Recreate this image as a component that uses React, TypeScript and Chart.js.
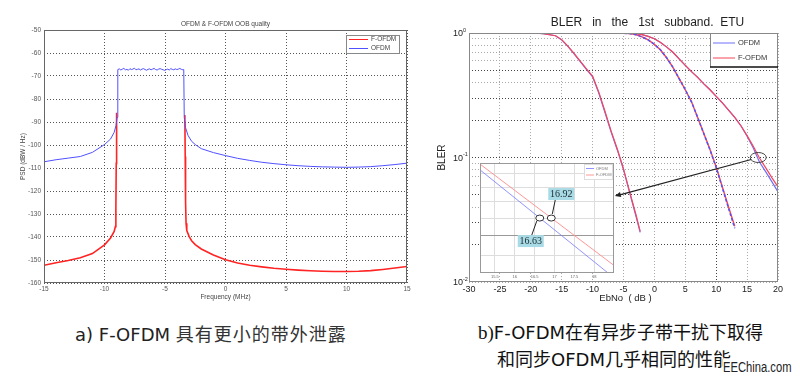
import React, { useEffect, useRef } from 'react';
import { Chart, registerables } from 'chart.js';

Chart.register(...registerables);

const FONT = "'Liberation Sans', Arial, sans-serif";

// ---------- Chart a) PSD ----------
const psdTitle = 'OFDM & F-OFDM OOB quality';
const psdXTitle = 'Frequency (MHz)';
const psdYTitle = 'PSD (dBW / Hz)';
const psdXTicks = [-15, -10, -5, 0, 5, 10, 15];
const psdYTicks = [-160, -150, -140, -130, -120, -110, -100, -90, -80, -70, -60, -50];
const psdLegend = ['F-OFDM', 'OFDM'];

// F-OFDM: in-band part lies under the OFDM trace (null = hidden gap)
const fofdmFreq = [-15, -14, -13, -12, -11, -10, -9.5, -9.2, -9.1, -9.06, -9.03, -9.0, -6, -3.36, -3.33, -3.3, -3.26, -3.2, -3.0, -2.8, -2.5, -2, -1, 0, 1, 2, 3, 4, 5, 6, 7, 8, 9, 10, 11, 12, 13, 14, 15];
const fofdmPsd = [-152.3, -151.2, -150.2, -149.0, -147.2, -143.4, -140.4, -137.6, -135.5, -128, -108, -86, null, -87, -105, -125, -134, -137.2, -139.8, -141.6, -143.3, -145.2, -147.8, -149.9, -151.3, -152.3, -153.0, -153.6, -154.0, -154.4, -154.7, -154.9, -155.0, -155.0, -154.9, -154.6, -154.1, -153.5, -152.8];

const ofdmFreq = [-15, -14, -13, -12, -11, -10, -9.5, -9.2, -9.05, -8.96,
  -8.9, -8.775, -8.65, -8.525, -8.4, -8.275, -8.15, -8.025, -7.9, -7.775, -7.65, -7.525, -7.4, -7.275, -7.15, -7.025,
  -6.9, -6.775, -6.65, -6.525, -6.4, -6.275, -6.15, -6.025, -5.9, -5.775, -5.65, -5.525, -5.4, -5.275, -5.15, -5.025,
  -4.9, -4.775, -4.65, -4.525, -4.4, -4.275, -4.15, -4.025, -3.9, -3.775, -3.65, -3.525, -3.45,
  -3.41, -3.3, -3.1, -2.8, -2.5, -2, -1, 0, 1, 2, 3, 4, 5, 6, 7, 8, 9, 10, 11, 12, 13, 14, 15];
const ofdmPsd = [-107.3, -106.4, -105.7, -105.0, -103.2, -99.8, -97.4, -94.5, -91.5, -88,
  -67.2, -66.9, -67.4, -67.0, -66.7, -67.3, -67.1, -67.5, -66.8, -67.2, -67.0, -66.6, -67.3, -67.1, -66.9, -67.4,
  -67.0, -66.8, -67.2, -67.5, -67.1, -66.9, -67.3, -67.0, -66.7, -67.2, -67.4, -67.0, -66.8, -67.1, -67.3, -67.6,
  -67.2, -67.0, -67.4, -66.8, -67.1, -67.3, -66.9, -67.2, -67.0, -66.7, -67.1, -67.3, -67.2,
  -88, -92.5, -95.8, -98.4, -99.8, -101.6, -103.3, -104.6, -105.8, -106.7, -107.5, -108.1, -108.6, -109.0, -109.3, -109.5, -109.6, -109.7, -109.6, -109.4, -109.0, -108.5, -107.9];

// ---------- Chart b) BLER ----------
const blerTitle = 'BLER   in   the   1st   subband.  ETU';
const blerXTitle = 'EbNo  ( dB )';
const blerYTitle = 'BLER';
const blerXTicks = [-30, -25, -20, -15, -10, -5, 0, 5, 10, 15, 20];
const blerYTicks = [0.01, 0.02, 0.03, 0.04, 0.05, 0.06, 0.07, 0.08, 0.09, 0.1, 0.2, 0.3, 0.4, 0.5, 0.6, 0.7, 0.8, 0.9, 1];
const blerYDark = [0.5, 0.3, 0.2, 0.1, 0.05, 0.03, 0.02];
const blerDecades = [1, 0.1, 0.01];
const blerDecadeExp = ['0', '-1', '-2'];
const blerLegend = ['OFDM', 'F-OFDM'];

const ebnoA = [-22, -20, -18, -16, -15, -14, -13, -12, -11, -10, -9, -8, -7, -6, -5, -4, -3, -2.3];
const ofdmA = [1, 1, 0.99, 0.95, 0.88, 0.78, 0.68, 0.59, 0.51, 0.445, 0.33, 0.23, 0.16, 0.115, 0.08, 0.052, 0.034, 0.025];
const fofdmA = [1, 1, 0.99, 0.95, 0.885, 0.785, 0.685, 0.595, 0.515, 0.45, 0.335, 0.235, 0.163, 0.117, 0.081, 0.053, 0.035, 0.0255];

const ebnoB = [-9, -6, -4, -3, -2, -1, 0, 1, 2, 3, 4, 5, 6, 7, 8, 9, 10, 11, 12, 13];
const ofdmB = [1, 1, 0.99, 0.97, 0.93, 0.88, 0.81, 0.73, 0.63, 0.53, 0.43, 0.35, 0.28, 0.21, 0.155, 0.115, 0.083, 0.057, 0.039, 0.027];
const fofdmB = [1, 1, 0.99, 0.97, 0.93, 0.88, 0.81, 0.73, 0.63, 0.53, 0.43, 0.35, 0.28, 0.21, 0.156, 0.116, 0.084, 0.058, 0.04, 0.028];

const ebnoC = [-9, -5, -3, -2, -1, 0, 1, 2, 3, 4, 5, 6, 7, 8, 9, 10, 11, 12, 13, 14, 15, 16, 17, 18, 19, 20];
const ofdmC = [1, 1, 0.99, 0.97, 0.94, 0.9, 0.84, 0.77, 0.7, 0.62, 0.55, 0.49, 0.44, 0.39, 0.35, 0.31, 0.275, 0.24, 0.21, 0.18, 0.148, 0.119, 0.092, 0.077, 0.064, 0.053];
const fofdmC = [1, 1, 0.99, 0.97, 0.94, 0.9, 0.84, 0.77, 0.7, 0.62, 0.55, 0.49, 0.44, 0.39, 0.35, 0.31, 0.275, 0.24, 0.21, 0.18, 0.15, 0.123, 0.099, 0.083, 0.069, 0.058];

// marked region (ellipse) and arrow target, in data units
const ellipseCenter = [16.8, 0.1];
const arrowTip = [-6.4, 0.049];

// ---------- Inset zoom ----------
const insetXTicks = [15.5, 16, 16.5, 17, 17.5, 18];
const insetYTicks = [0.08, 0.09, 0.1, 0.11, 0.12, 0.13];
const insetEbno = [15.125, 18.5];
const insetOfdm = [0.1329, 0.0703];
const insetFofdm = [0.1375, 0.0756];
const crossOfdm = 16.63;
const crossFofdm = 16.92;
const crossLevel = 0.1;

// ---------- captions ----------
const captionA = ['a)  F-OFDM ', '具有更小的带外泄露'];
const captionB1 = ['b)', 'F-OFDM在有异步子带干扰下取得'];
const captionB2 = '和同步OFDM几乎相同的性能';
const watermark = 'EEChina.com';

const RED = 'rgb(255,35,35)';
const BLUE = 'rgb(80,80,255)';
const BRED = 'rgb(245,70,90)';
const BBLUE = 'rgb(110,110,250)';

const pts = (xs: number[], ys: (number | null)[]) => xs.map((x, i) => ({ x, y: ys[i] }));

const leftDeco = {
  id: 'leftDeco',
  afterDraw(chart: any) {
    const { ctx, chartArea: a } = chart;
    ctx.save();
    ctx.strokeStyle = '#666';
    ctx.lineWidth = 1;
    ctx.strokeRect(a.left + 0.5, a.top + 0.5, a.right - a.left - 1, a.bottom - a.top - 1);
    ctx.fillStyle = '#444';
    ctx.font = `6.5px ${FONT}`;
    ctx.textAlign = 'center';
    ctx.textBaseline = 'middle';
    const cx = (a.left + a.right) / 2;
    ctx.fillText(psdTitle, cx, a.top - 6);
    ctx.fillText(psdXTitle, cx, a.bottom + 14);
    ctx.save();
    ctx.translate(a.left - 21, (a.top + a.bottom) / 2);
    ctx.rotate(-Math.PI / 2);
    ctx.fillText(psdYTitle, 0, 0);
    ctx.restore();
    // legend
    const lx = a.right - 61, ly = a.top + 5;
    ctx.fillStyle = '#fff';
    ctx.fillRect(lx, ly, 53, 18);
    ctx.strokeStyle = '#888';
    ctx.strokeRect(lx + 0.5, ly + 0.5, 53, 18);
    ctx.textAlign = 'left';
    const cols = [RED, BLUE];
    psdLegend.forEach((t, i) => {
      const y = ly + 4.5 + i * 9;
      ctx.strokeStyle = cols[i];
      ctx.lineWidth = 1;
      ctx.beginPath();
      ctx.moveTo(lx + 3, y);
      ctx.lineTo(lx + 22, y);
      ctx.stroke();
      ctx.fillStyle = '#444';
      ctx.fillText(t, lx + 25, y);
    });
    ctx.restore();
  },
};

const rightDeco = {
  id: 'rightDeco',
  afterDraw(chart: any) {
    const { ctx, chartArea: a, scales } = chart;
    const xs = scales.x, ys = scales.y;
    ctx.save();
    ctx.strokeStyle = '#888';
    ctx.lineWidth = 1;
    ctx.strokeRect(a.left + 0.5, a.top + 0.5, a.right - a.left - 1, a.bottom - a.top - 1);
    ctx.fillStyle = '#222';
    ctx.textBaseline = 'middle';
    ctx.textAlign = 'center';
    const cx = (a.left + a.right) / 2;
    ctx.font = `12px ${FONT}`;
    ctx.fillText(blerTitle, cx + 24, a.top - 10);
    ctx.font = `9.5px ${FONT}`;
    ctx.fillText(blerXTitle, cx + 2, a.bottom + 16);
    ctx.save();
    ctx.translate(22, (a.top + a.bottom) / 2);
    ctx.rotate(-Math.PI / 2);
    ctx.font = `10px ${FONT}`;
    ctx.fillText(blerYTitle, 0, 0);
    ctx.restore();
    // decade labels
    blerDecades.forEach((v, i) => {
      const y = ys.getPixelForValue(v);
      ctx.textAlign = 'right';
      ctx.font = `9px ${FONT}`;
      ctx.fillText('10', a.left - 6, y + 1);
      ctx.textAlign = 'left';
      ctx.font = `5.5px ${FONT}`;
      ctx.fillText(blerDecadeExp[i], a.left - 6, y - 3);
    });
    // legend
    const lx = a.right - 68, ly = a.top;
    ctx.fillStyle = '#fff';
    ctx.fillRect(lx, ly + 1, 67, 33);
    ctx.strokeStyle = '#888';
    ctx.beginPath();
    ctx.moveTo(lx + 0.5, ly + 34);
    ctx.lineTo(lx + 0.5, ly + 0.5);
    ctx.stroke();
    ctx.strokeStyle = '#111';
    ctx.lineWidth = 1.5;
    ctx.beginPath();
    ctx.moveTo(lx, ly + 34);
    ctx.lineTo(a.right, ly + 34);
    ctx.stroke();
    const cols = [BBLUE, BRED];
    ctx.font = `7.5px ${FONT}`;
    blerLegend.forEach((t, i) => {
      const y = ly + 10 + i * 15;
      ctx.strokeStyle = cols[i];
      ctx.lineWidth = 1;
      ctx.beginPath();
      ctx.moveTo(lx + 3, y);
      ctx.lineTo(lx + 25, y);
      ctx.stroke();
      ctx.fillStyle = '#333';
      ctx.textAlign = 'left';
      ctx.fillText(t, lx + 28, y);
    });
    // ellipse + arrow
    const ex = xs.getPixelForValue(ellipseCenter[0]);
    const ey = ys.getPixelForValue(ellipseCenter[1]);
    ctx.strokeStyle = '#444';
    ctx.lineWidth = 1;
    ctx.beginPath();
    ctx.ellipse(ex, ey, 8, 5, 0, 0, Math.PI * 2);
    ctx.stroke();
    const tx = xs.getPixelForValue(arrowTip[0]);
    const ty = ys.getPixelForValue(arrowTip[1]);
    const sx = ex - 7, sy = ey + 2;
    ctx.strokeStyle = '#222';
    ctx.lineWidth = 1.2;
    ctx.beginPath();
    ctx.moveTo(sx, sy);
    ctx.lineTo(tx + 4, ty - 1);
    ctx.stroke();
    const ang = Math.atan2(ty - sy, tx - sx);
    ctx.fillStyle = '#222';
    ctx.beginPath();
    ctx.moveTo(tx, ty);
    ctx.lineTo(tx - 6 * Math.cos(ang) + 2.5 * Math.sin(ang), ty - 6 * Math.sin(ang) - 2.5 * Math.cos(ang));
    ctx.lineTo(tx - 6 * Math.cos(ang) - 2.5 * Math.sin(ang), ty - 6 * Math.sin(ang) + 2.5 * Math.cos(ang));
    ctx.closePath();
    ctx.fill();
    ctx.restore();
  },
};

const insetDeco = {
  id: 'insetDeco',
  beforeDraw(chart: any) {
    const { ctx, chartArea: a } = chart;
    ctx.save();
    ctx.fillStyle = '#fff';
    ctx.fillRect(a.left, a.top, a.right - a.left, a.bottom - a.top);
    ctx.restore();
  },
  afterDraw(chart: any) {
    const { ctx, chartArea: a, scales } = chart;
    const xs = scales.x, ys = scales.y;
    ctx.save();
    ctx.strokeStyle = '#999';
    ctx.lineWidth = 1;
    ctx.strokeRect(a.left + 0.5, a.top + 0.5, a.right - a.left - 1, a.bottom - a.top - 1);
    // legend
    const lx = a.right - 30, ly = a.top + 1;
    ctx.fillStyle = '#fff';
    ctx.fillRect(lx, ly, 29, 16);
    ctx.strokeStyle = '#ddd';
    ctx.strokeRect(lx + 0.5, ly + 0.5, 28, 15);
    ctx.font = `4px ${FONT}`;
    ctx.textBaseline = 'middle';
    ctx.textAlign = 'left';
    const cols = ['rgba(120,120,255,0.8)', 'rgba(255,140,140,0.9)'];
    blerLegend.forEach((t, i) => {
      const y = ly + 4.5 + i * 6.5;
      ctx.strokeStyle = cols[i];
      ctx.beginPath();
      ctx.moveTo(lx + 2, y);
      ctx.lineTo(lx + 10, y);
      ctx.stroke();
      ctx.fillStyle = '#777';
      ctx.fillText(t, lx + 12, y);
    });
    // markers + labels
    const y0 = ys.getPixelForValue(crossLevel);
    const xo = xs.getPixelForValue(crossOfdm);
    const xf = xs.getPixelForValue(crossFofdm);
    const drawLabel = (txt: string, bx: number, by: number, lx1: number, ly1: number, lx2: number, ly2: number) => {
      ctx.strokeStyle = '#222';
      ctx.lineWidth = 1;
      ctx.beginPath();
      ctx.moveTo(lx1, ly1);
      ctx.lineTo(lx2, ly2);
      ctx.stroke();
      ctx.fillStyle = '#a9dbe6';
      ctx.fillRect(bx, by, 26, 12);
      ctx.fillStyle = '#1a2a30';
      ctx.font = `10px 'Liberation Serif', serif`;
      ctx.textAlign = 'center';
      ctx.fillText(txt, bx + 13, by + 6.5);
    };
    drawLabel(String(crossFofdm), xf - 3, y0 - 30, xf + 4, y0 - 18, xf + 1, y0 - 4);
    drawLabel(String(crossOfdm), xo - 22, y0 + 17, xo - 3, y0 + 3, xo - 8, y0 + 17);
    [xo, xf].forEach((x) => {
      ctx.fillStyle = '#fff';
      ctx.strokeStyle = '#333';
      ctx.beginPath();
      ctx.ellipse(x, y0, 4, 3, 0, 0, Math.PI * 2);
      ctx.fill();
      ctx.stroke();
    });
    ctx.restore();
  },
};

export default function App() {
  const leftRef = useRef<HTMLCanvasElement>(null);
  const rightRef = useRef<HTMLCanvasElement>(null);
  const insetRef = useRef<HTMLCanvasElement>(null);

  useEffect(() => {
    const dotted = { display: false, dash: [1, 2] };
    const c1 = new Chart(leftRef.current as HTMLCanvasElement, {
      type: 'line',
      data: {
        datasets: [
          { label: psdLegend[1], data: pts(ofdmFreq, ofdmPsd), borderColor: BLUE, borderWidth: 1, pointRadius: 0, tension: 0 },
          { label: psdLegend[0], data: pts(fofdmFreq, fofdmPsd), borderColor: RED, borderWidth: 1.6, pointRadius: 0, tension: 0, spanGaps: false },
        ],
      },
      options: {
        responsive: false,
        animation: false,
        devicePixelRatio: 1,
        layout: { padding: { top: 30, right: 13, left: 0, bottom: 0 } },
        plugins: { legend: { display: false }, tooltip: { enabled: false } },
        scales: {
          x: {
            type: 'linear', min: -15, max: 15,
            afterFit: (s: any) => { s.height = 27; },
            afterBuildTicks: (s: any) => { s.ticks = psdXTicks.map((v) => ({ value: v })); },
            ticks: { font: { size: 6.5, family: FONT }, color: '#555', padding: 2, maxRotation: 0, autoSkip: false },
            grid: { color: '#555', drawTicks: false },
            border: dotted,
          },
          y: {
            type: 'linear', min: -160, max: -50,
            afterFit: (s: any) => { s.width = 44; },
            afterBuildTicks: (s: any) => { s.ticks = psdYTicks.map((v) => ({ value: v })); },
            ticks: { font: { size: 6.5, family: FONT }, color: '#555', padding: 3, autoSkip: false },
            grid: { color: '#555', drawTicks: false },
            border: dotted,
          },
        },
      } as any,
      plugins: [leftDeco],
    });

    const c2 = new Chart(rightRef.current as HTMLCanvasElement, {
      type: 'line',
      data: {
        datasets: [
          { label: 'F-OFDM A', data: pts(ebnoA, fofdmA), borderColor: BRED, borderWidth: 1.2, pointRadius: 0 },
          { label: 'OFDM A', data: pts(ebnoA, ofdmA), borderColor: BBLUE, borderWidth: 1.2, pointRadius: 0 },
          { label: 'OFDM B', data: pts(ebnoB, ofdmB), borderColor: 'rgb(90,80,240)', borderWidth: 1.5, pointRadius: 0, borderDash: [3, 2] },
          { label: 'F-OFDM B', data: pts(ebnoB, fofdmB), borderColor: BRED, borderWidth: 1.4, pointRadius: 0 },
          { label: 'F-OFDM C', data: pts(ebnoC, fofdmC), borderColor: BRED, borderWidth: 1.2, pointRadius: 0 },
          { label: 'OFDM C', data: pts(ebnoC, ofdmC), borderColor: BBLUE, borderWidth: 1.2, pointRadius: 0 },
        ],
      },
      options: {
        responsive: false,
        animation: false,
        devicePixelRatio: 1,
        layout: { padding: { top: 33, right: 22, left: 0, bottom: 0 } },
        plugins: { legend: { display: false }, tooltip: { enabled: false } },
        scales: {
          x: {
            type: 'linear', min: -30, max: 20,
            afterFit: (s: any) => { s.height = 28; },
            afterBuildTicks: (s: any) => { s.ticks = blerXTicks.map((v) => ({ value: v })); },
            ticks: { font: { size: 9, family: FONT }, color: '#222', padding: 2, maxRotation: 0, autoSkip: false },
            grid: { color: (c: any) => (c.tick && c.tick.value === 10 ? '#444' : '#aaa'), drawTicks: false },
            border: dotted,
          },
          y: {
            type: 'logarithmic', min: 0.01, max: 1,
            afterFit: (s: any) => { s.width = 49; },
            afterBuildTicks: (s: any) => { s.ticks = blerYTicks.map((v) => ({ value: v })); },
            ticks: { display: false },
            grid: { color: (c: any) => (c.tick && blerYDark.includes(c.tick.value) ? '#444' : '#aaa'), drawTicks: false },
            border: dotted,
          },
        },
      } as any,
      plugins: [rightDeco],
    });

    const c3 = new Chart(insetRef.current as HTMLCanvasElement, {
      type: 'line',
      data: {
        datasets: [
          { label: 'OFDM', data: pts(insetEbno, insetOfdm), borderColor: 'rgba(120,120,255,0.8)', borderWidth: 1, pointRadius: 0 },
          { label: 'F-OFDM', data: pts(insetEbno, insetFofdm), borderColor: 'rgba(255,140,140,0.9)', borderWidth: 1, pointRadius: 0 },
        ],
      },
      options: {
        responsive: false,
        animation: false,
        devicePixelRatio: 1,
        layout: { padding: { top: 0, right: 1, left: 0, bottom: 0 } },
        plugins: { legend: { display: false }, tooltip: { enabled: false } },
        scales: {
          x: {
            type: 'linear', min: 15.125, max: 18.5,
            afterFit: (s: any) => { s.height = 8; },
            afterBuildTicks: (s: any) => { s.ticks = insetXTicks.map((v) => ({ value: v })); },
            ticks: { font: { size: 4, family: FONT }, color: '#666', padding: 1, maxRotation: 0, autoSkip: false, callback: (v: any) => String(v) },
            grid: { color: '#ddd', drawTicks: false },
            border: { display: false },
          },
          y: {
            type: 'logarithmic', min: 0.0723, max: 0.1384,
            afterFit: (s: any) => { s.width = 0; },
            afterBuildTicks: (s: any) => { s.ticks = insetYTicks.map((v) => ({ value: v })); },
            ticks: { display: false },
            grid: { color: (c: any) => (c.tick && c.tick.value === 0.09 ? '#999' : '#ddd'), drawTicks: false },
            border: { display: false },
          },
        },
      } as any,
      plugins: [insetDeco],
    });

    return () => {
      c1.destroy();
      c2.destroy();
      c3.destroy();
    };
  }, []);

  const abs = (l: number, t: number, w: number, h: number): React.CSSProperties => ({ position: 'absolute', left: l, top: t, width: w, height: h });
  const sans = "'DejaVu Sans', 'Noto Sans CJK SC', sans-serif";

  return (
    <div style={{ position: 'fixed', left: 0, top: 0, width: 800, height: 380, background: '#fff', overflow: 'hidden' }}>
      <canvas ref={leftRef} width={420} height={310} style={abs(0, 0, 420, 310)} />
      <canvas ref={rightRef} width={380} height={310} style={abs(420, 0, 380, 310)} />
      <canvas ref={insetRef} width={135} height={118} style={abs(480, 163, 135, 118)} />
      <div style={{ position: 'absolute', left: 75, top: 322, lineHeight: '22px', whiteSpace: 'nowrap', fontFamily: sans, color: '#222' }}>
        <span style={{ fontSize: 18 }}>{captionA[0]}</span>
        <span style={{ fontSize: 18, letterSpacing: 1, color: '#333', fontFamily: "'Noto Sans CJK SC', sans-serif" }}>{captionA[1]}</span>
      </div>
      <div style={{ position: 'absolute', left: 478, top: 322, lineHeight: '22px', whiteSpace: 'nowrap', fontFamily: sans, color: '#111', fontSize: 18 }}>
        <span style={{ fontFamily: "'Liberation Serif', serif", fontSize: 19 }}>{captionB1[0]}</span>
        <span>{captionB1[1]}</span>
      </div>
      <div style={{ position: 'absolute', left: 497, top: 349, lineHeight: '22px', whiteSpace: 'nowrap', fontFamily: sans, color: '#111', fontSize: 18 }}>
        {captionB2}
      </div>
      <div style={{ position: 'absolute', left: 723, top: 359, lineHeight: '16px', whiteSpace: 'nowrap', fontFamily: FONT, fontSize: 14, color: '#222', background: '#fff', paddingRight: 2, transform: 'scaleX(0.8)', transformOrigin: 'left center' }}>
        {watermark}
      </div>
    </div>
  );
}
